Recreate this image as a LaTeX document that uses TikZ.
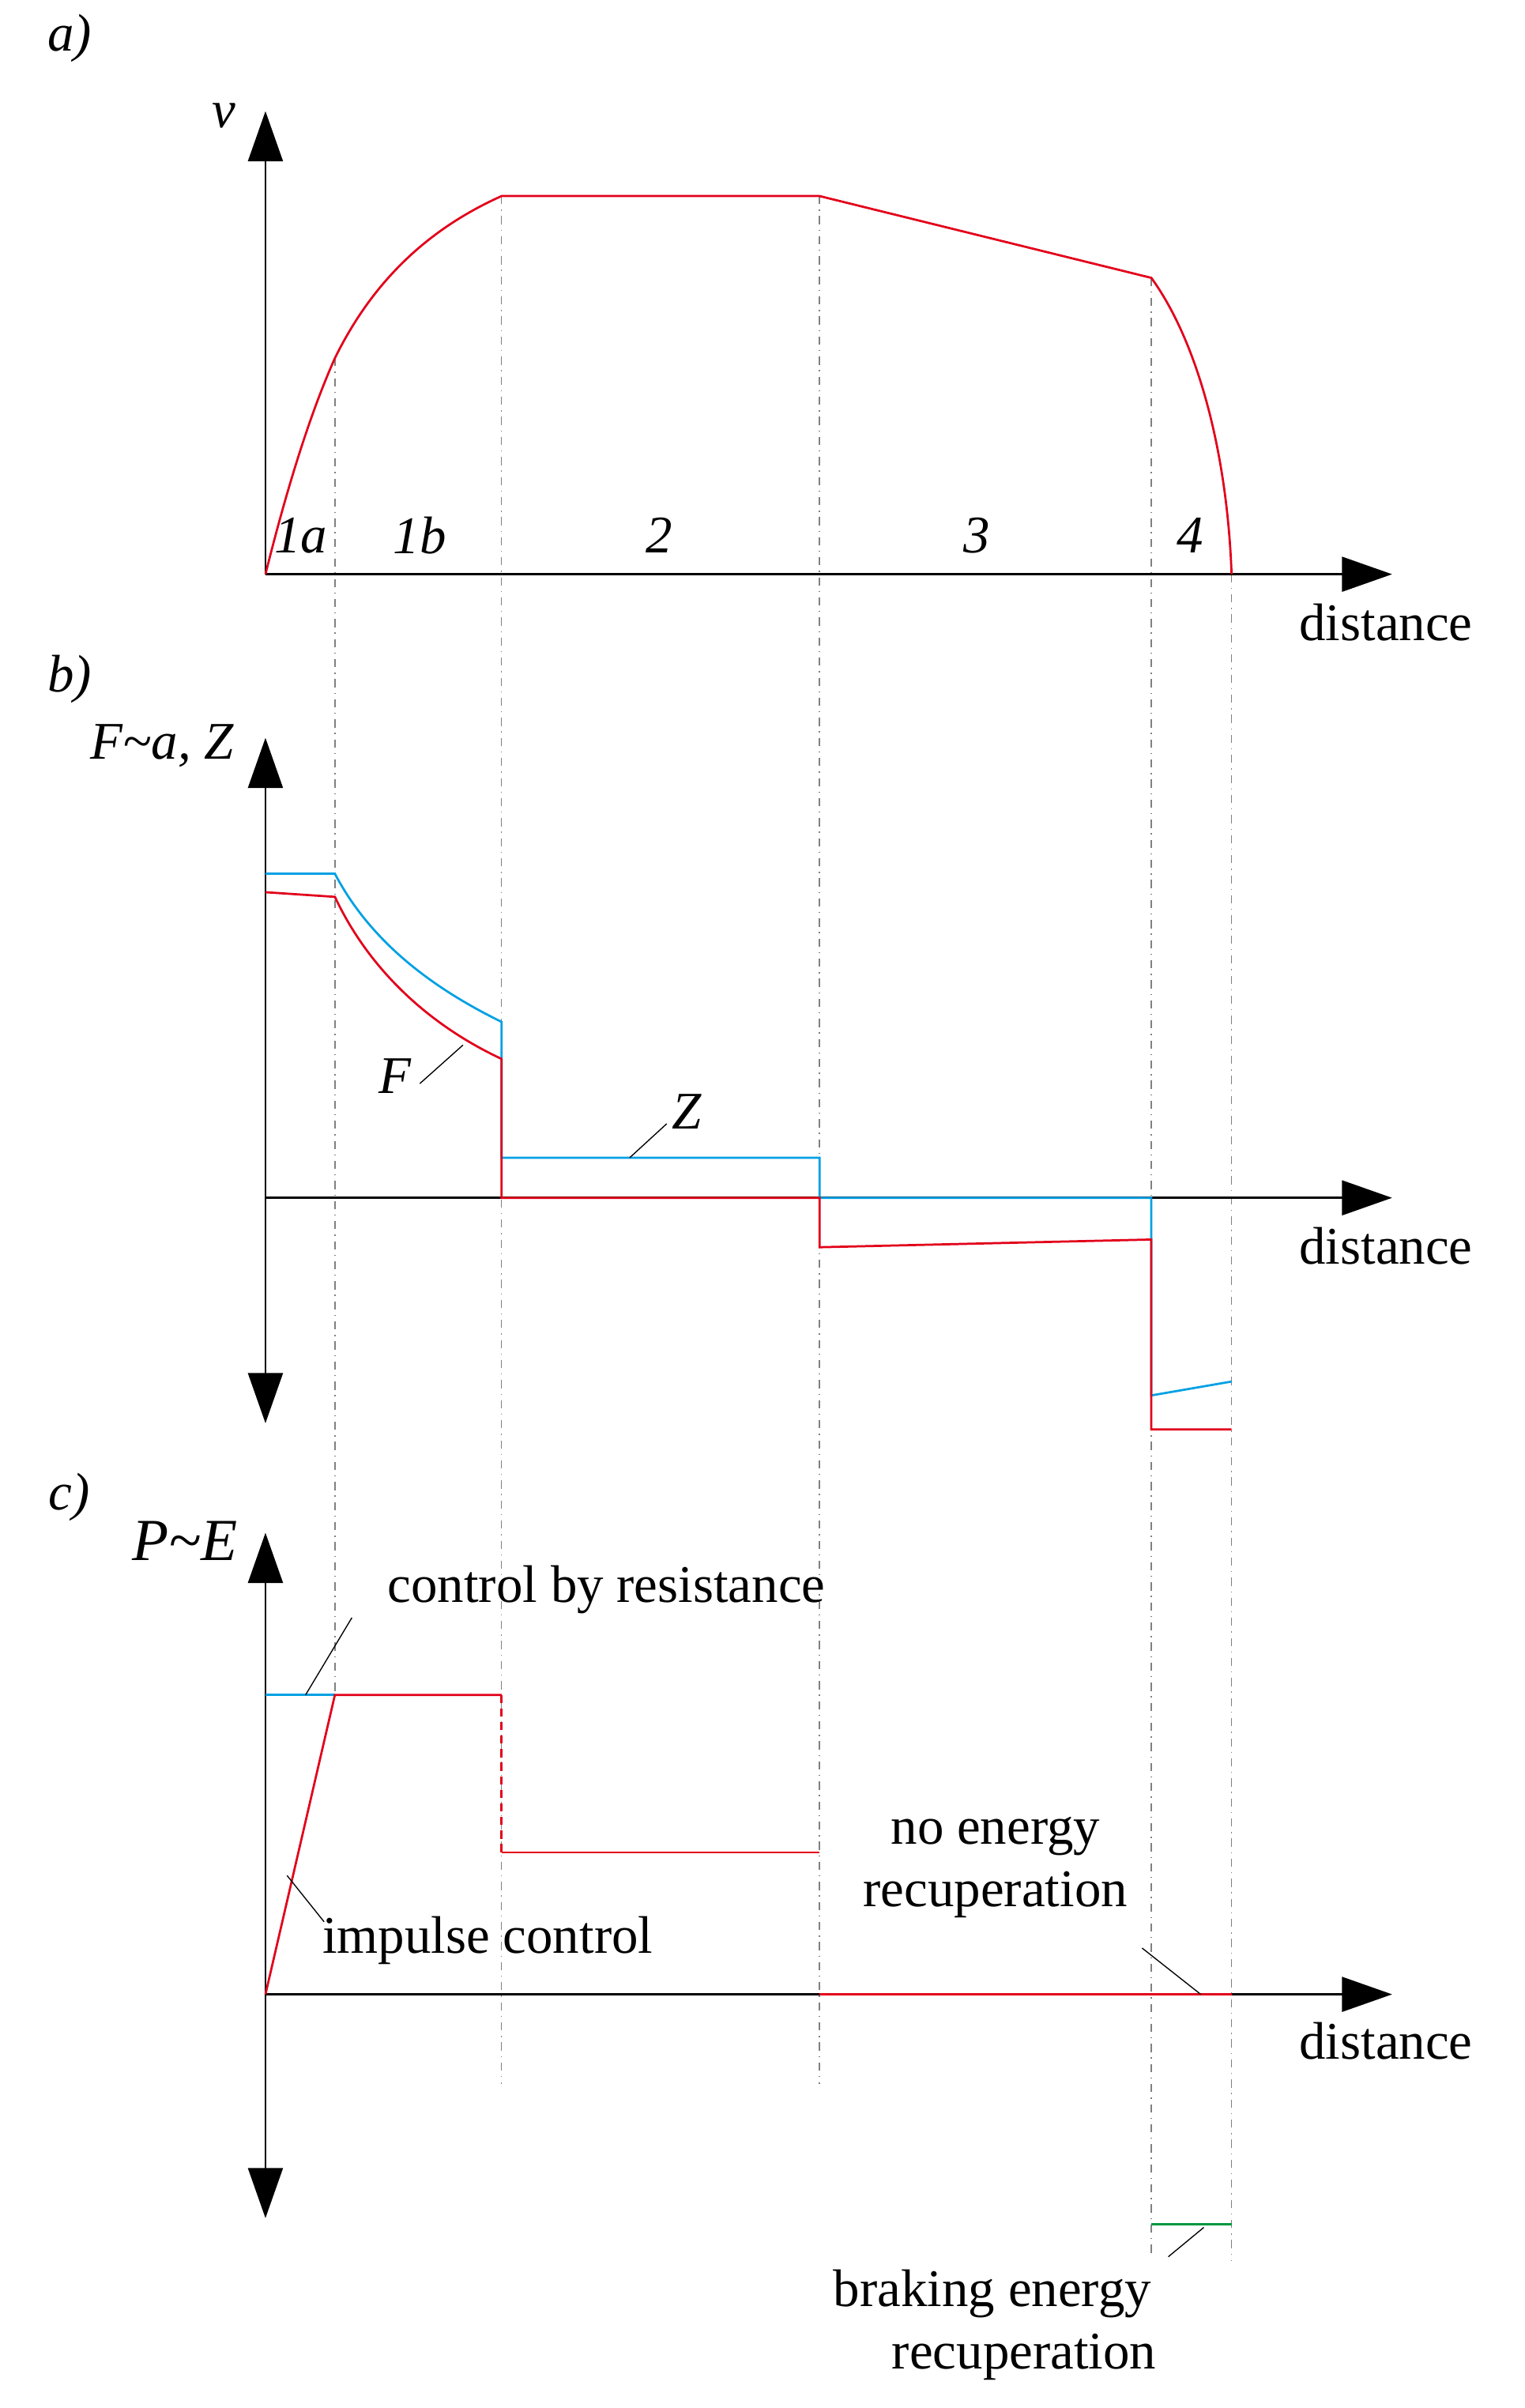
\documentclass[tikz,border=0pt]{standalone}
\usepackage{fontspec}
\setmainfont{Liberation Serif}
\usetikzlibrary{arrows.meta}
\definecolor{tred}{RGB}{226,0,26}
\definecolor{tblue}{RGB}{0,160,227}
\definecolor{tgreen}{RGB}{0,150,64}
\tikzset{
  axis/.style={thick,-{Triangle[length=0.65cm,width=0.45cm]}},
  baxis/.style={thick,{Triangle[length=0.65cm,width=0.45cm]}-{Triangle[length=0.65cm,width=0.45cm]}},
  guide/.style={gray,dash dot,thin},
  lbl/.style={font=\fontsize{19.5}{23}\selectfont,align=center},
  ilbl/.style={font=\fontsize{19.5}{23}\selectfont\itshape},
  lead/.style={black,thin}
}
\begin{document}
\begin{tikzpicture}[x=0.02cm,y=-0.02cm]
\useasboundingbox (0,0) rectangle (988,1560);
% panel labels
\node[ilbl] (pa) at (45,25) {a)};
\node[ilbl] (pb) at (45,440) {b)};
\node[ilbl] (pc) at (45,970) {c)};

% guide lines
\draw[guide] (217,232) -- (217,1098);
\draw[guide] (325,127) -- (325,1350);
\draw[guide] (531,127) -- (531,1350);
\draw[guide] (746,180) -- (746,1462);
\draw[guide] (798,372) -- (798,1465);

% a) speed
\coordinate (oa) at (172,372);
\draw[axis] (oa) -- (172,72);
\draw[axis] (oa) -- (902,372);
\node[ilbl] (v) at (145,75) {v};
\node[lbl] (da) at (898,403) {distance};
\foreach \x/\t in {195/1a,272/1b,427/2,633/3,771/4}
  \node[ilbl] at (\x,347) {\t};
\draw[tred,thick] (oa) .. controls (185,320) and (200,270) .. (217,232)
  .. controls (245,175) and (285,145) .. (325,127) -- (531,127) -- (746,180)
  .. controls (775,220) and (795,290) .. (798,372);

% b) force
\coordinate (ob) at (172,776);
\draw[baxis] (172,922) -- (172,478);
\draw[axis] (ob) -- (902,776);
\node[ilbl] (fz) at (105,483) {F\textasciitilde a, Z};
\node[lbl] (db) at (898,807) {distance};
\draw[tblue,thick] (172,566) -- (217,566) .. controls (240,610) and (280,640) .. (325,662)
  -- (325,750) -- (531,750) -- (531,776) -- (746,776) -- (746,904) -- (798,895);
\draw[tred,thick] (172,578) -- (217,581) .. controls (240,630) and (280,665) .. (325,686)
  -- (325,776) -- (531,776) -- (531,808) -- (746,803) -- (746,926) -- (798,926);
\node[ilbl] (F) at (256,697) {F};
\draw[lead] (272,702) -- (300,677);
\node[ilbl] (Z) at (445,720) {Z};
\draw[lead] (408,750) -- (432,728);

% c) power
\coordinate (oc) at (172,1292);
\draw[baxis] (172,1437) -- (172,993);
\draw[axis] (oc) -- (902,1292);
\node[ilbl,font=\fontsize{22}{26}\selectfont\itshape] (pe) at (120,998) {P\textasciitilde E};
\node[lbl] (dc) at (898,1322) {distance};
\draw[tblue,thick] (172,1098) -- (217,1098);
\draw[tred,thick] (oc) -- (217,1098) -- (325,1098);
\draw[tred,thick,densely dashed] (325,1098) -- (325,1200);
\draw[tred,thick] (325,1200) -- (531,1200);
\draw[tred,thick] (531,1292) -- (798,1292);
\draw[tgreen,thick] (746,1441) -- (798,1441);
\node[lbl] (cr) at (393,1030) {control by resistance};
\draw[lead] (198,1098) -- (228,1048);
\node[lbl] (ic) at (316,1257) {impulse control};
\draw[lead] (186,1215) -- (210,1245);
\node[lbl] (ne) at (645,1210) {no energy\\recuperation};
\draw[lead] (740,1262) -- (778,1292);
\node[lbl] (be) at (643,1506) {braking energy\\\hspace{1.2em}recuperation};
\draw[lead] (757,1462) -- (780,1443);
\end{tikzpicture}
\end{document}
